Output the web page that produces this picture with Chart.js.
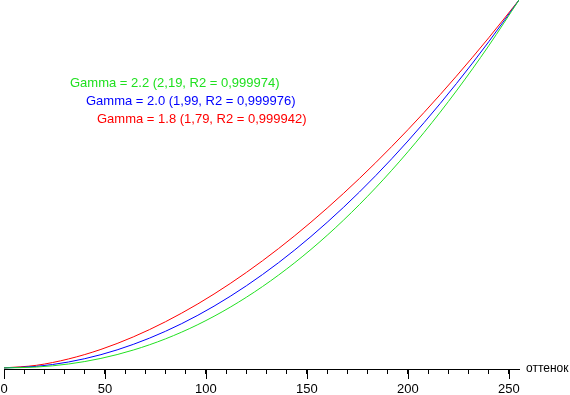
<!DOCTYPE html>
<html>
<head>
<meta charset="utf-8">
<script src="https://cdn.jsdelivr.net/npm/chart.js@4"></script>
<style>
  body { margin: 0; background: #fff; }
  canvas { display: block; }
</style>
</head>
<body>
<canvas id="gammaChart" width="570" height="395"></canvas>
<script>
// x: оттенок (0..255), y: normalized brightness
const levels = [0, 16, 32, 48, 64, 80, 96, 112, 128, 144, 160, 176, 192, 208, 224, 240, 255];
const redValues   = [0, 0.0070, 0.0244, 0.0503, 0.0842, 0.1256, 0.1740, 0.2293, 0.2912, 0.3595, 0.4342, 0.5149, 0.6018, 0.6944, 0.7930, 0.8972, 1];
const blueValues  = [0, 0.0041, 0.0161, 0.0360, 0.0639, 0.0996, 0.1431, 0.1945, 0.2537, 0.3207, 0.3956, 0.4781, 0.5685, 0.6667, 0.7727, 0.8864, 1];
const greenValues = [0, 0.0023, 0.0106, 0.0258, 0.0485, 0.0790, 0.1177, 0.1650, 0.2211, 0.2861, 0.3603, 0.4440, 0.5372, 0.6401, 0.7529, 0.8756, 1];

const captions = [
  { text: 'Gamma = 2.2 (2,19, R2 = 0,999974)', color: '#20e020', x: 70, y: 83 },
  { text: 'Gamma = 2.0 (1,99, R2 = 0,999976)', color: '#0000ff', x: 86, y: 101 },
  { text: 'Gamma = 1.8 (1,79, R2 = 0,999942)', color: '#ff0000', x: 97, y: 119 }
];
const axisTitle = 'оттенок';
const FONT = '13px "Liberation Sans", Arial, sans-serif';

function toPoints(vals){ return levels.map((x,i)=>({x, y: vals[i]})); }

const extras = {
  id: 'extras',
  afterDraw(chart){
    const ctx = chart.ctx;
    const xs = chart.scales.x;
    const bottom = chart.chartArea.bottom;
    ctx.save();
    // longer major ticks every 50
    ctx.strokeStyle = '#000';
    ctx.lineWidth = 1;
    for(let v=0; v<=250; v+=50){
      const px = Math.round(xs.getPixelForValue(v)) + 0.5;
      ctx.beginPath();
      ctx.moveTo(px, bottom);
      ctx.lineTo(px, bottom + 10);
      ctx.stroke();
    }
    ctx.textBaseline = 'middle';
    ctx.textAlign = 'left';
    ctx.fillStyle = '#000';
    ctx.font = '12px "Liberation Sans", Arial, sans-serif';
    ctx.fillText(axisTitle, chart.chartArea.right + 7, bottom);
    ctx.font = FONT;
    captions.forEach(c=>{
      ctx.fillStyle = c.color;
      ctx.fillText(c.text, c.x, c.y);
    });
    ctx.restore();
  }
};

new Chart(document.getElementById('gammaChart'), {
  type: 'line',
  data: {
    datasets: [
      { label: 'green', data: toPoints(greenValues), borderColor: '#20e020' },
      { label: 'blue',  data: toPoints(blueValues),  borderColor: '#0000ff' },
      { label: 'red',   data: toPoints(redValues),   borderColor: '#ff0000' }
    ]
  },
  options: {
    responsive: false,
    animation: false,
    events: [],
    layout: { padding: { left: 4, right: 51, top: 0, bottom: 0 } },
    elements: {
      line: { borderWidth: 1, cubicInterpolationMode: 'monotone' },
      point: { radius: 0 }
    },
    plugins: { legend: { display: false }, tooltip: { enabled: false } },
    scales: {
      x: {
        type: 'linear',
        min: 0,
        max: 255,
        afterFit(scale){
          scale.height = 26;
          scale.paddingLeft = 0;
          scale.paddingRight = 0;
        },
        border: { color: '#000', width: 1 },
        grid: { drawOnChartArea: false, drawTicks: true, tickLength: 5, color: '#000' },
        ticks: {
          stepSize: 10,
          includeBounds: false,
          autoSkip: false,
          maxRotation: 0,
          padding: 8,
          color: '#000',
          font: { family: '"Liberation Sans", Arial, sans-serif', size: 13 },
          callback: v => (v % 50 === 0 ? String(v) : '')
        }
      },
      y: {
        display: false,
        min: -0.003,
        max: 1
      }
    }
  },
  plugins: [extras]
});
</script>
</body>
</html>
